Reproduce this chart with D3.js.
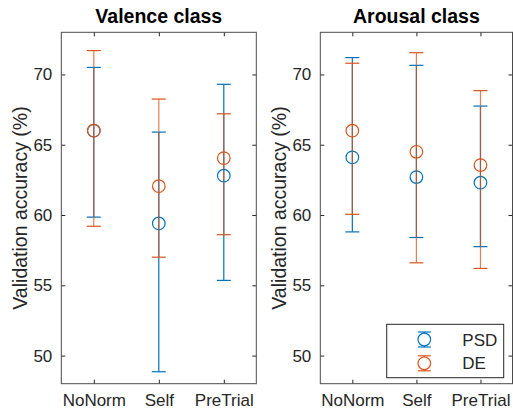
<!doctype html>
<html lang="en">
<head>
    <meta charset="utf-8">
    <title>Validation accuracy</title>
    <style>
        body {
            margin: 0;
            background-color: white;
            font-family: 'Liberation Sans', Arial, sans-serif;
        }
        svg text {
            fill: #262626;
        }
    </style>
</head>
<body>
    <svg id="chart"></svg>
    <script src="https://d3js.org/d3.v7.min.js"></script>
    <script>
        var categories = ["NoNorm", "Self", "PreTrial"];
        var yTicks = [50, 55, 60, 65, 70];
        var seriesNames = ["PSD", "DE"];

        // valence class
        var valencePsdMean = [66.0, 59.4, 62.8];
        var valencePsdLow = [59.85, 48.85, 55.35];
        var valencePsdHigh = [70.5, 65.9, 69.3];
        var valenceDeMean = [66.0, 62.05, 64.05];
        var valenceDeLow = [59.2, 57.0, 58.6];
        var valenceDeHigh = [71.7, 68.25, 67.2];

        // arousal class
        var arousalPsdMean = [64.1, 62.7, 62.3];
        var arousalPsdLow = [58.8, 58.4, 57.75];
        var arousalPsdHigh = [71.2, 70.65, 67.75];
        var arousalDeMean = [66.0, 64.5, 63.55];
        var arousalDeLow = [60.05, 56.6, 56.2];
        var arousalDeHigh = [70.8, 71.55, 68.85];

        var colors = ["#0072BD", "#D95319"];
        var axisColor = "#262626";
        var boxColor = "#4a4a4a";

        var svg = d3.select("#chart")
            .attr("width", 513)
            .attr("height", 416);

        var plotTop = 32.3, plotBottom = 383.7;
        var y = d3.scaleLinear().domain([48, 73]).range([plotBottom, plotTop]);

        function series(mean, low, high) {
            return categories.map(function (c, i) {
                return { cat: c, mean: mean[i], low: low[i], high: high[i] };
            });
        }

        function drawPanel(left, right, title, allSeries, withLegend) {
            var x = d3.scalePoint().domain(categories).range([left, right]).padding(0.5);
            var g = svg.append("g");

            // axes with inward ticks
            var ax = g.append("g");
            ax.append("g")
                .attr("transform", "translate(0," + plotBottom + ")")
                .call(d3.axisBottom(x).tickSizeInner(-4).tickSizeOuter(0).tickPadding(10));
            ax.append("g")
                .attr("transform", "translate(0," + plotTop + ")")
                .call(d3.axisTop(x).tickSizeInner(-4).tickSizeOuter(0).tickFormat(""));
            ax.append("g")
                .attr("transform", "translate(" + left + ",0)")
                .call(d3.axisLeft(y).tickValues(yTicks).tickSizeInner(-4).tickSizeOuter(0).tickPadding(9));
            ax.append("g")
                .attr("transform", "translate(" + right + ",0)")
                .call(d3.axisRight(y).tickValues(yTicks).tickSizeInner(-4).tickSizeOuter(0).tickFormat(""));
            ax.selectAll(".domain").remove();
            ax.selectAll("line").attr("stroke", axisColor);
            ax.selectAll("text")
                .attr("fill", axisColor)
                .attr("font-size", 17)
                .attr("font-family", "'Liberation Sans', Arial, sans-serif");

            g.append("rect")
                .attr("x", left).attr("y", plotTop)
                .attr("width", right - left).attr("height", plotBottom - plotTop)
                .attr("fill", "none").attr("stroke", boxColor).attr("stroke-width", 1);

            g.append("text")
                .attr("x", (left + right) / 2).attr("y", 23.3)
                .attr("text-anchor", "middle")
                .attr("font-size", 19.5).attr("font-weight", "bold")
                .style("fill", "#000")
                .text(title);

            g.append("text")
                .attr("transform", "translate(" + (left - 34) + "," + ((plotTop + plotBottom) / 2) + ") rotate(-90)")
                .attr("text-anchor", "middle")
                .attr("font-size", 19.5)
                .text("Validation accuracy (%)");

            allSeries.forEach(function (s, k) {
                var sg = g.append("g")
                    .attr("stroke", colors[k])
                    .attr("stroke-width", 1.2)
                    .attr("fill", "none");
                sg.selectAll(".bar").data(s).join("line")
                    .attr("stroke-opacity", k == 1 ? 0.75 : 1)
                    .attr("x1", function (d) { return x(d.cat) })
                    .attr("x2", function (d) { return x(d.cat) })
                    .attr("y1", function (d) { return y(d.low) })
                    .attr("y2", function (d) { return y(d.high) });
                sg.selectAll(".capHigh").data(s).join("line")
                    .attr("x1", function (d) { return x(d.cat) - 7 })
                    .attr("x2", function (d) { return x(d.cat) + 7 })
                    .attr("y1", function (d) { return y(d.high) })
                    .attr("y2", function (d) { return y(d.high) });
                sg.selectAll(".capLow").data(s).join("line")
                    .attr("x1", function (d) { return x(d.cat) - 7 })
                    .attr("x2", function (d) { return x(d.cat) + 7 })
                    .attr("y1", function (d) { return y(d.low) })
                    .attr("y2", function (d) { return y(d.low) });
                sg.selectAll("circle").data(s).join("circle")
                    .attr("cx", function (d) { return x(d.cat) })
                    .attr("cy", function (d) { return y(d.mean) })
                    .attr("r", 6.3);
            });

            if (withLegend) {
                var lg = g.append("g");
                lg.append("rect")
                    .attr("x", 386.7).attr("y", 324.3)
                    .attr("width", 117).attr("height", 53.4)
                    .attr("fill", "white").attr("stroke", axisColor).attr("stroke-width", 1);
                seriesNames.forEach(function (name, k) {
                    var cy = 339.5 + k * 23.8;
                    var item = lg.append("g").attr("stroke", colors[k]).attr("stroke-width", 1.2).attr("fill", "none");
                    item.append("line").attr("x1", 424.3).attr("x2", 424.3).attr("y1", cy - 7.5).attr("y2", cy + 7.5);
                    item.append("line").attr("x1", 417.8).attr("x2", 430.8).attr("y1", cy - 7.5).attr("y2", cy - 7.5);
                    item.append("line").attr("x1", 417.8).attr("x2", 430.8).attr("y1", cy + 7.5).attr("y2", cy + 7.5);
                    item.append("circle").attr("cx", 424.3).attr("cy", cy).attr("r", 6.3).attr("fill", "white");
                    lg.append("text")
                        .attr("x", 462.3).attr("y", cy + 6)
                        .attr("font-size", 17)
                        .text(name);
                });
            }
        }

        drawPanel(61.3, 256.3, "Valence class", [
            series(valencePsdMean, valencePsdLow, valencePsdHigh),
            series(valenceDeMean, valenceDeLow, valenceDeHigh)
        ], false);

        drawPanel(320.3, 512.5, "Arousal class", [
            series(arousalPsdMean, arousalPsdLow, arousalPsdHigh),
            series(arousalDeMean, arousalDeLow, arousalDeHigh)
        ], true);
    </script>
</body>
</html>
